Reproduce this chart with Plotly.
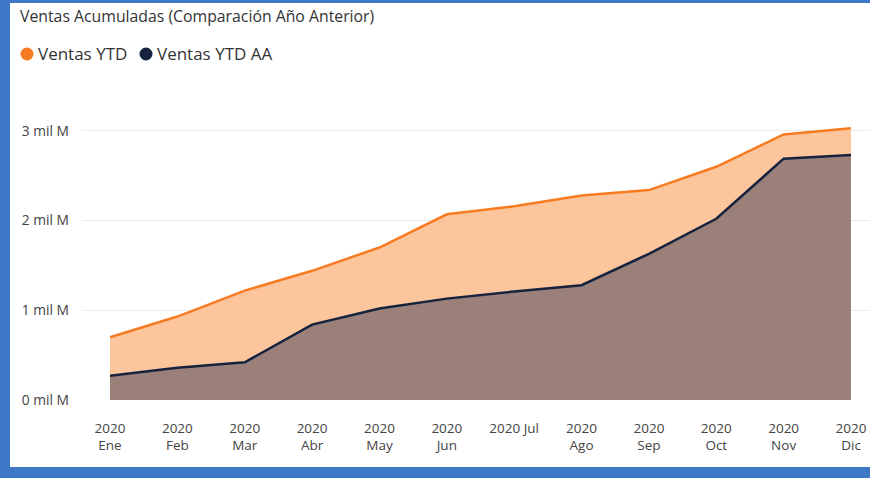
import plotly.graph_objects as go

months = ["Ene", "Feb", "Mar", "Abr", "May", "Jun", "Jul", "Ago", "Sep", "Oct", "Nov", "Dic"]
year = "2020"
tick_labels = [f"{year}<br>{m}" if m != "Jul" else f"{year} {m}" for m in months]
ventas_ytd = [0.70, 0.93, 1.22, 1.44, 1.70, 2.07, 2.16, 2.28, 2.34, 2.60, 2.96, 3.03]
ventas_ytd_aa = [0.27, 0.36, 0.42, 0.84, 1.02, 1.13, 1.21, 1.28, 1.63, 2.02, 2.69, 2.73]
y_ticks = [0, 1, 2, 3]
y_tick_text = [f"{v} mil M" for v in y_ticks]
series_names = ["Ventas YTD", "Ventas YTD AA"]

W, H = 870, 478
ML, MR, MT, MB = 82, 0, 95, 78
PW, PH = W - ML - MR, H - MT - MB

def px(x):
    return (x - ML) / PW

def py(y):
    return (H - MB - y) / PH

ORANGE = "#F77B21"
ORANGE_FILL = "#FDC59C"
NAVY = "#16233F"
NAVY_FILL = "#9B8079"
BLUE = "#3F78C6"
FONT = "Open Sans"
series_colors = [ORANGE, NAVY]

x = list(range(len(months)))
step = (851 - 110) / 11  # pixels per category

fig = go.Figure()
fig.add_trace(go.Scatter(x=x, y=ventas_ytd, mode="lines", fill="tozeroy",
                         line=dict(color=ORANGE, width=2.5), fillcolor=ORANGE_FILL,
                         showlegend=False, name=series_names[0]))
fig.add_trace(go.Scatter(x=x, y=ventas_ytd_aa, mode="lines", fill="tozeroy",
                         line=dict(color=NAVY, width=2.5), fillcolor=NAVY_FILL,
                         showlegend=False, name=series_names[1]))

shapes = [
    dict(type="rect", xref="paper", yref="paper", x0=px(0), x1=px(10), y0=py(H), y1=py(0),
         fillcolor=BLUE, line_width=0, layer="above"),
    dict(type="rect", xref="paper", yref="paper", x0=px(0), x1=px(W), y0=py(3), y1=py(0),
         fillcolor=BLUE, line_width=0, layer="above"),
    dict(type="rect", xref="paper", yref="paper", x0=px(0), x1=px(W), y0=py(H), y1=py(467),
         fillcolor=BLUE, line_width=0, layer="above"),
]

annotations = [
    dict(text="Ventas Acumuladas (Comparación Año Anterior)", xref="paper", yref="paper",
         x=px(18), y=py(16), xanchor="left", yanchor="middle", showarrow=False,
         font=dict(family=FONT, size=15.8, color="#333333")),
]

# legend: dot + label
legend_dot_x = [27, 146]
legend_text_x = [36, 155]
LEG_Y = 54
for name, col, dx, tx in zip(series_names, series_colors, legend_dot_x, legend_text_x):
    shapes.append(dict(type="circle", xref="paper", yref="paper",
                       x0=px(dx - 6.5), x1=px(dx + 6.5), y0=py(LEG_Y + 6.5), y1=py(LEG_Y - 6.5),
                       fillcolor=col, line_width=0))
    annotations.append(dict(text=name, xref="paper", yref="paper",
                            x=px(tx), y=py(LEG_Y), xanchor="left", yanchor="middle", showarrow=False,
                            font=dict(family=FONT, size=17, color="#333333")))

fig.update_layout(
    width=W, height=H,
    margin=dict(l=ML, r=MR, t=MT, b=MB),
    paper_bgcolor="white", plot_bgcolor="white",
    font=dict(family=FONT, color="#555555"),
    shapes=shapes,
    annotations=annotations,
    xaxis=dict(range=[-(110 - ML) / step, (W - 110) / step],
               tickmode="array", tickvals=x, ticktext=tick_labels,
               showgrid=False, zeroline=False, showline=False, ticks="",
               ticklabelstandoff=18,
               tickfont=dict(family=FONT, size=13.5, color="#444444")),
    yaxis=dict(range=[0, 3.4], tickmode="array", tickvals=y_ticks, ticktext=y_tick_text,
               showgrid=True, gridcolor="#EBEBEB", gridwidth=1, zeroline=False, showline=False,
               ticks="", ticklabelstandoff=12,
               tickfont=dict(family=FONT, size=13.8, color="#444444")),
    showlegend=False,
    hovermode=False,
)

fig.write_html("out.html", config={"displayModeBar": False},
               post_script="document.body.style.margin='0';document.body.style.overflow='hidden';")
